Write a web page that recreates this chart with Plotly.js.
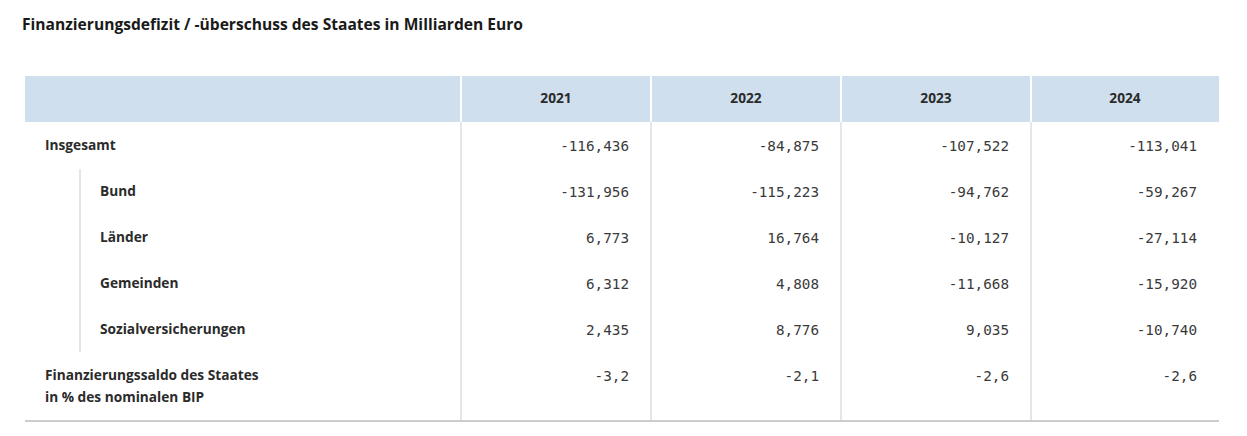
<!DOCTYPE html>
<html><head><meta charset="utf-8">
<script src="https://cdn.plot.ly/plotly-3.0.1.min.js"></script>
<style>html,body{margin:0;padding:0;background:#fff}#chart{width:1247px;height:436px}</style>
</head><body><div id="chart"></div>
<script>
// ---------- data ----------
const chartTitle = 'Finanzierungsdefizit / -überschuss des Staates in Milliarden Euro';
const years = ['2021', '2022', '2023', '2024'];
const rowLabels = ['Insgesamt', 'Bund', 'Länder', 'Gemeinden', 'Sozialversicherungen',
  'Finanzierungssaldo des Staates<br>in % des nominalen BIP'];
const rowLevels = [0, 1, 1, 1, 1, 0];
const rowDecimals = [3, 3, 3, 3, 3, 1];
const values2021 = [-116.436, -131.956, 6.773, 6.312, 2.435, -3.2];
const values2022 = [-84.875, -115.223, 16.764, 4.808, 8.776, -2.1];
const values2023 = [-107.522, -94.762, -10.127, -11.668, 9.035, -2.6];
const values2024 = [-113.041, -59.267, -27.114, -15.920, -10.740, -2.6];
const seriesValues = [values2021, values2022, values2023, values2024];

// ---------- layout constants ----------
const W = 1247, H = 436;
const tableLeft = 25, tableRight = 1219;
const headerTop = 76, headerBottom = 122;
const labelColRight = 461, colWidth = 190;
const rowHeight = 46, firstLineOffset = 25, lineGap = 22;
const labelX = [45, 100], indentLineX = 80, numPad = 22;
const textColor = '#2b2b2b';
const labelFont = '"Open Sans", "Noto Sans", sans-serif';
const numFont = '"DejaVu Sans Mono", "Liberation Mono", monospace';

const colEdges = years.map((_, i) => labelColRight + i * colWidth).concat([tableRight]);
const fmt = (v, d) => v.toFixed(d).replace('.', ',');

// row geometry
const rowTops = [];
let yy = headerBottom;
rowLabels.forEach(l => {
  rowTops.push(yy);
  const n = l.split('<br>').length;
  yy += rowHeight + (n - 1) * lineGap;
});
const tableBottom = yy + 1;

const traces = [];
// header texts
traces.push({
  type: 'scatter', mode: 'text',
  x: years.map((_, i) => (colEdges[i] + colEdges[i + 1]) / 2),
  y: years.map(() => (headerTop + headerBottom) / 2 + 1),
  text: years, textposition: 'middle center',
  textfont: {family: labelFont, size: 13.7, weight: 700, color: textColor},
  hoverinfo: 'skip', showlegend: false
});
// row labels
const lx = [], ly = [], lt = [];
rowLabels.forEach((l, r) => {
  l.split('<br>').forEach((line, k) => {
    lx.push(labelX[rowLevels[r]]);
    ly.push(rowTops[r] + firstLineOffset + k * lineGap);
    lt.push(line);
  });
});
traces.push({
  type: 'scatter', mode: 'text', x: lx, y: ly, text: lt,
  textposition: 'middle right',
  textfont: {family: labelFont, size: 13.7, weight: 700, color: textColor},
  hoverinfo: 'skip', showlegend: false
});
// values
seriesValues.forEach((vals, c) => {
  traces.push({
    type: 'scatter', mode: 'text',
    x: vals.map(() => colEdges[c + 1] - numPad),
    y: vals.map((_, r) => rowTops[r] + firstLineOffset),
    text: vals.map((v, r) => fmt(v, rowDecimals[r])),
    textposition: 'middle left',
    textfont: {family: numFont, size: 14.3, color: '#3a3a3a'},
    hoverinfo: 'skip', showlegend: false
  });
});

const shapes = [];
shapes.push({type: 'rect', xref: 'x', yref: 'y', x0: tableLeft, x1: tableRight, y0: headerTop, y1: headerBottom,
  fillcolor: '#cfdfee', line: {width: 0}, layer: 'below'});
colEdges.slice(0, years.length).forEach(x => {
  shapes.push({type: 'line', xref: 'x', yref: 'y', x0: x, x1: x, y0: headerTop, y1: headerBottom,
    line: {color: '#ffffff', width: 2}, layer: 'below'});
  shapes.push({type: 'line', xref: 'x', yref: 'y', x0: x, x1: x, y0: headerBottom, y1: tableBottom,
    line: {color: '#cccccc', width: 1}, layer: 'below'});
});
shapes.push({type: 'line', xref: 'x', yref: 'y', x0: tableLeft, x1: tableRight, y0: tableBottom, y1: tableBottom,
  line: {color: '#bdbdbd', width: 1.5}, layer: 'below'});
// indent guide
const indRows = rowLevels.map((lv, i) => lv ? i : -1).filter(i => i >= 0);
const iStart = rowTops[indRows[0]];
const iEnd = rowTops[indRows[indRows.length - 1]] + rowHeight;
shapes.push({type: 'line', xref: 'x', yref: 'y', x0: indentLineX, x1: indentLineX, y0: iStart + 1, y1: iEnd,
  line: {color: '#cccccc', width: 1}, layer: 'below'});

const layout = {
  width: W, height: H,
  margin: {l: 0, r: 0, t: 0, b: 0, pad: 0},
  paper_bgcolor: '#ffffff', plot_bgcolor: '#ffffff',
  title: {text: chartTitle, xref: 'container', yref: 'container', x: 22 / W, xanchor: 'left',
    y: 1 - 25 / H, yanchor: 'middle',
    font: {family: labelFont, size: 15.6, weight: 700, color: '#1a1a1a'}},
  xaxis: {range: [0, W], visible: false, fixedrange: true},
  yaxis: {range: [H, 0], visible: false, fixedrange: true},
  shapes: shapes, showlegend: false, hovermode: false
};
Plotly.newPlot('chart', traces, layout, {staticPlot: true, displayModeBar: false});
</script></body></html>
